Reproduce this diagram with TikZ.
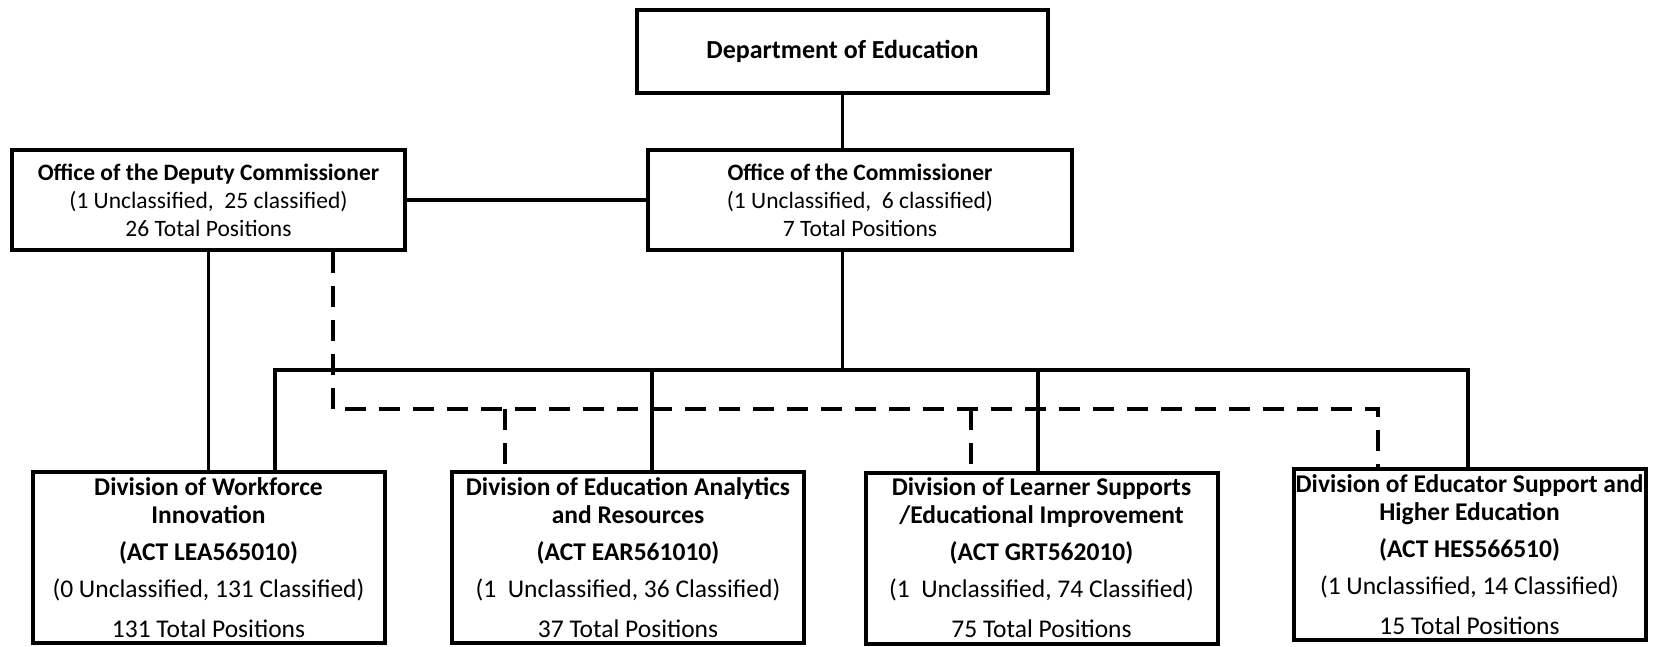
\documentclass[tikz,border=0pt]{standalone}
\usepackage{fontspec}
\setmainfont{Carlito}
\usepackage{tikz}
\usetikzlibrary{positioning}
\newcommand{\unitlines}[5]{\textbf{#1}\\\textbf{#2}\\[9pt]\textbf{#3}\\[9pt]#4\\[12pt]#5}
\tikzstyle{office} = [draw, line width=4pt, align=center, inner sep=0pt, font=\fontsize{23.5}{28}\selectfont]
\tikzstyle{division} = [draw, line width=4pt, align=center, inner sep=0pt, minimum width=352pt, minimum height=171pt, font=\fontsize{25.5}{28}\selectfont]
\tikzstyle{link} = [line width=3.5pt]
\tikzstyle{dashlink} = [line width=3.5pt, dash pattern=on 21pt off 13pt]

\begin{document}
\begin{tikzpicture}[x=1pt, y=-1pt]
			\useasboundingbox (0,0) rectangle (1658,647);
			% top and the two offices
			\node[office, minimum width=411pt, minimum height=83pt, font=\fontsize{26}{28}\selectfont\bfseries] (dept) at (842.5,51.5) {Department of Education};
			\node[office, minimum width=424pt, minimum height=100pt] (comm) at (860,200) {\textbf{Office of the Commissioner}\\(1 Unclassified,\ \ 6 classified)\\7 Total Positions};
			\node[office, minimum width=393pt, minimum height=100pt] (dep) at (208.5,200) {\textbf{Office of the Deputy Commissioner}\\(1 Unclassified,\ \ 25 classified)\\26 Total Positions};
			% divisions
			\node[division] (wfi) at (208.5,557.5) {\unitlines{Division of Workforce}{Innovation}{(ACT LEA565010)}{(0 Unclassified, 131 Classified)}{131 Total Positions}};
			\node[division] (ear) at (628,557.5) {\unitlines{Division of Education Analytics}{and Resources}{(ACT EAR561010)}{(1\ \ Unclassified, 36 Classified)}{37 Total Positions}};
			\node[division] (grt) at (1041.5,558) {\unitlines{Division of Learner Supports}{/Educational Improvement}{(ACT GRT562010)}{(1\ \ Unclassified, 74 Classified)}{75 Total Positions}};
			\node[division] (hes) at (1469.5,554.5) {\unitlines{Division of Educator Support and}{Higher Education}{(ACT HES566510)}{(1 Unclassified, 14 Classified)}{15 Total Positions}};
			% bus coordinates
			\coordinate (b1) at (275,370);
			\coordinate (b2) at (652,370);
			\coordinate (b3) at (1038,370);
			\coordinate (b4) at (1468,370);
			\coordinate (d0) at (333,420);
			\coordinate (d1) at (345,409);
			\coordinate (d2) at (505,409);
			\coordinate (d3) at (971,409);
			\coordinate (d4) at (1378,409);
			% solid lines
			\draw[link] (dept.south) -- (dept.south |- comm.north);
			\draw[link] (dep.east) -- (comm.west);
			\draw[link] (dept.south |- comm.south) -- (dept.south |- b1);
			\draw[link] (b1 |- wfi.north) -- (b1) -- (b4) -- (b4 |- hes.north);
			\draw[link] (b2) -- (b2 |- ear.north);
			\draw[link] (b3) -- (b3 |- grt.north);
			\draw[link] (dep.south) -- (wfi.north);
			% dashed lines
			\draw[dashlink] (d0 |- dep.south) -- (d0);
			\draw[dashlink] (d1) -- (d4) -- (d4 |- hes.north);
			\draw[dashlink] (d2) -- (d2 |- ear.north);
			\draw[dashlink] (d3) -- (d3 |- grt.north);
		\end{tikzpicture}
\end{document}
